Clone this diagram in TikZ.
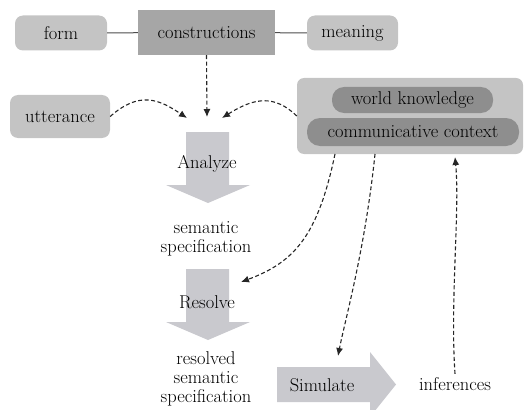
\documentclass[tikz,border=0pt]{standalone}
\usepackage{tikz}
\usetikzlibrary{arrows.meta, positioning, calc}
\definecolor{boxgray}{HTML}{C4C4C4}
\definecolor{darkgray}{HTML}{A6A6A6}
\definecolor{pillgray}{HTML}{8E8E8E}
\definecolor{arrowgray}{HTML}{C9C9CE}

\begin{document}
\begin{tikzpicture}[x=1pt, y=-1pt, >={Latex[length=8pt,width=7pt]},
    font=\fontsize{18.5}{19}\selectfont,
    softbox/.style={rectangle, fill=boxgray, rounded corners=8pt,
                    minimum height=35pt, inner sep=2pt},
    constbox/.style={rectangle, fill=darkgray, minimum width=137pt,
                     minimum height=45pt},
    pill/.style={rectangle, fill=pillgray, rounded corners=12pt,
                 minimum height=26pt, inner sep=2pt},
    bigarrow/.style={fill=arrowgray},
    flow/.style={->, dash pattern=on 4pt off 2.5pt, line width=1.1pt, black!85}]

    \useasboundingbox (0,0) rectangle (529,409);

    % Top row
    \node[softbox, minimum width=92pt] (form) at (61,33) {form};
    \node[constbox] (cons) at (206.5,32.5) {constructions};
    \node[softbox, minimum width=91pt] (meaning) at (352.5,33) {meaning};
    \draw[line width=1pt, black!70] (form) -- (cons);
    \draw[line width=1pt, black!70] (cons) -- (meaning);

    % Inputs
    \node[softbox, minimum width=100pt, minimum height=43pt] (utter) at (60,116.5) {utterance};
    \node[rectangle, fill=boxgray, rounded corners=7pt, minimum width=226pt,
          minimum height=76pt] (ctx) at (410,116) {};
    \node[pill, minimum width=161pt] (world) at (412.5,100) {world knowledge};
    \node[pill, minimum width=212pt, minimum height=28pt, rounded corners=13pt] (comm) at (413,132) {communicative context};

    % Process arrows
    \fill[bigarrow] (186,132) -- (229,132) -- (229,185) -- (250,185) -- (208,203)
        -- (166,185) -- (186,185) -- cycle;
    \fill[bigarrow] (186,269) -- (229,269) -- (229,322) -- (250,322) -- (208,340)
        -- (166,322) -- (186,322) -- cycle;
    \fill[bigarrow] (277,367) -- (370,367) -- (370,352) -- (396,384.5) -- (370,417)
        -- (370,402) -- (277,402) -- cycle;
    \node (analyze) at (207,164) {Analyze};
    \node (resolve) at (207,302) {Resolve};
    \node (simulate) at (322,385) {Simulate};

    % Results
    \node[align=center] (semspec) at (206,239) {semantic\\specification};
    \node[align=center] (ressem) at (206,379) {resolved\\semantic\\specification};
    \node (infer) at (455,384) {inferences};

    % Dashed connectors
    \coordinate (inL) at (187,118);
    \coordinate (inR) at (222,118);
    \coordinate (toSim) at (338,356);
    \draw[flow] (cons.south) -- (207,117);
    \draw[flow] (utter.east) .. controls (140,90) and (160,100) .. (inL);
    \draw[flow] (ctx.west) .. controls (275,95) and (255,97) .. (inR);
    \draw[flow] (335,154) .. controls (318,235) and (295,262) .. (241,282);
    \draw[flow] (375,154) .. controls (365,250) and (345,320) .. (toSim);
    \draw[flow] (infer.north) .. controls (450,300) and (460,210) .. (455,157);

\end{tikzpicture}
\end{document}
